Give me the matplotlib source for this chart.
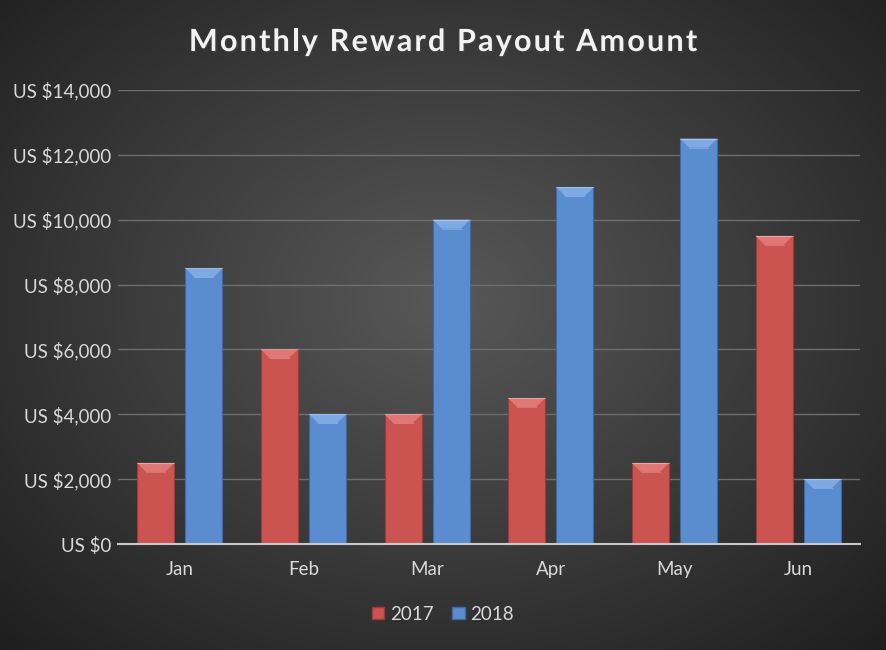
import numpy as np
import matplotlib
matplotlib.use('Agg')
import matplotlib.pyplot as plt
import matplotlib.patheffects as pe
from matplotlib.patches import Polygon, Patch

# Chart data
months = ['Jan', 'Feb', 'Mar', 'Apr', 'May', 'Jun']
series_names = ['2017', '2018']
payout_2017 = [2500, 6000, 4000, 4500, 2500, 9500]
payout_2018 = [8500, 4000, 10000, 11000, 12500, 2000]
yticks = [0, 2000, 4000, 6000, 8000, 10000, 12000, 14000]
title = 'Monthly Reward Payout Amount'

plt.rcParams['font.family'] = ['Lato', 'DejaVu Sans']

W, H = 886, 650
fig = plt.figure(figsize=(W/100, H/100), dpi=100)

# Radial gradient background
bg = fig.add_axes([0, 0, 1, 1])
yy, xx = np.mgrid[0:H, 0:W]
r = np.sqrt(((xx - 443)/560.0)**2 + ((yy - 300)/430.0)**2)
v = np.clip(0.345 - 0.20*r, 0.10, 0.36)
bg.imshow(np.dstack([v, v, v]), aspect='auto', extent=[0, 1, 0, 1])
bg.axis('off')

ax = fig.add_axes([118/W, 1-544/H, 742/W, 454/H])
ax.set_facecolor('none')

x = np.arange(len(months))
bw = 0.30
off = 0.195
red, blue = '#cb5350', '#5a8cd0'
red_top, blue_top = '#df7774', '#7eaae4'
red_dark, blue_dark = '#9c3b39', '#3d69a6'

b1 = ax.bar(x - off, payout_2017, bw, color=red, edgecolor=red_dark, linewidth=0.8, zorder=3)
b2 = ax.bar(x + off, payout_2018, bw, color=blue, edgecolor=blue_dark, linewidth=0.8, zorder=3)

ax.set_xlim(-0.5, len(months) - 0.5)
ax.set_ylim(0, 14000)

# px -> data for bevel size
dx = 9 * (len(months)) / 742.0
dy = 9 * 14000 / 454.0

for bars, top in ((b1, red_top), (b2, blue_top)):
    for b in bars:
        x0, w, h = b.get_x(), b.get_width(), b.get_height()
        poly = Polygon([[x0, h], [x0 + w, h], [x0 + w - dx, h - dy], [x0 + dx, h - dy]],
                       closed=True, facecolor=top, edgecolor='none', zorder=4)
        ax.add_patch(poly)
        ax.plot([x0 + dx, x0 + w - dx], [h - dy, h - dy], color='white', alpha=0.2, lw=0.8, zorder=5)
        ax.plot([x0, x0 + w], [h, h], color='white', alpha=0.35, lw=0.8, zorder=5)

ax.set_yticks(yticks)
ax.set_yticklabels(['US ${:,}'.format(t) for t in yticks])
ax.set_xticks(x)
ax.set_xticklabels(months)
ax.tick_params(axis='both', length=0, colors='#d9d9d9', labelsize=13.5)
ax.tick_params(axis='y', pad=5)
ax.tick_params(axis='x', pad=12)
ax.grid(axis='y', color='#6e6e6e', lw=1, zorder=0)
for s in ['top', 'right', 'left']:
    ax.spines[s].set_visible(False)
ax.spines['bottom'].set_color('#c8c8c8')
ax.spines['bottom'].set_linewidth(1.5)
ax.spines['bottom'].set_zorder(6)

# Title with letter spacing, drawn char by char
renderer = fig.canvas.get_renderer()
tprops = dict(color='#f2f2f2', fontsize=22, fontweight='bold', va='center', ha='left',
              path_effects=[pe.withSimplePatchShadow(offset=(1, -1), alpha=0.5)])
spacing = 2.2
probe = fig.text(0, 0, title, **tprops)
full_w = probe.get_window_extent(renderer).width
probe.remove()
total = full_w + spacing * (len(title) - 1)
x_start = W/2 - total/2
for i, ch in enumerate(title):
    if i > 0:
        p = fig.text(0, 0, title[:i], **tprops)
        pw = p.get_window_extent(renderer).width
        p.remove()
    else:
        pw = 0
    fig.text((x_start + pw + i*spacing)/W, 1 - 42/H, ch, **tprops)

handles = [Patch(facecolor=red, edgecolor=red_dark), Patch(facecolor=blue, edgecolor=blue_dark)]
leg = fig.legend(handles, series_names, loc='center', bbox_to_anchor=(0.5, 1 - 614/H),
                 ncol=2, frameon=False, fontsize=13.5, handlelength=0.65, handleheight=0.65,
                 handletextpad=0.3, columnspacing=1.0)
for t in leg.get_texts():
    t.set_color('#d9d9d9')

fig.savefig('out.png', dpi=100)
